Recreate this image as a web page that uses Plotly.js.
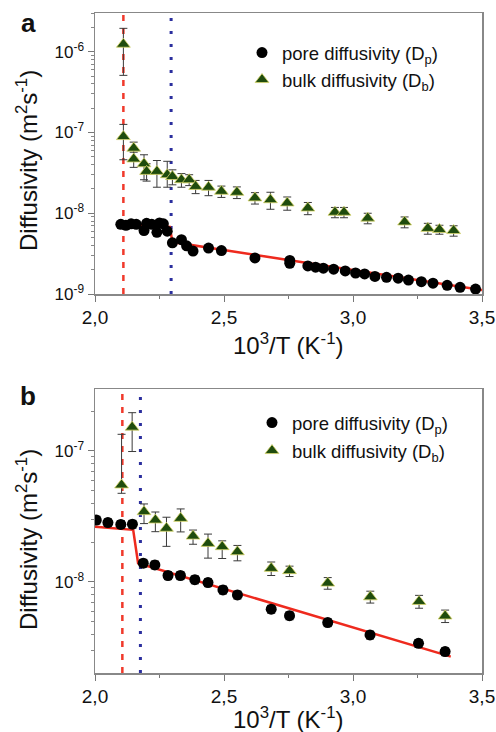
<!DOCTYPE html>
<html><head><meta charset="utf-8">
<script src="https://cdn.plot.ly/plotly-3.0.1.min.js"></script>
<style>html,body{margin:0;padding:0;background:#fff}#chart{width:496px;height:732px}</style>
</head><body><div id="chart"></div>
<script>
// ---------- Panel a ----------
const poreAx = [2.10,2.12,2.14,2.16,2.19,2.20,2.22,2.24,2.25,2.265,2.28,2.30,2.335,2.355,2.38,2.44,2.49,2.62,2.755,2.755,2.825,2.855,2.885,2.925,2.97,3.01,3.045,3.085,3.13,3.175,3.215,3.265,3.31,3.365,3.415,3.475];
const poreAy = [7.3e-9,7.1e-9,7.4e-9,7.3e-9,6.1e-9,7.5e-9,7.3e-9,5.8e-9,7.6e-9,7.4e-9,6.0e-9,4.3e-9,4.7e-9,3.95e-9,3.4e-9,3.7e-9,3.45e-9,2.8e-9,2.6e-9,2.4e-9,2.23e-9,2.15e-9,2.09e-9,2.03e-9,1.93e-9,1.82e-9,1.77e-9,1.65e-9,1.61e-9,1.57e-9,1.49e-9,1.42e-9,1.36e-9,1.28e-9,1.21e-9,1.15e-9];
const bulkAx = [2.11,2.11,2.15,2.15,2.19,2.20,2.24,2.28,2.30,2.335,2.365,2.39,2.44,2.49,2.55,2.62,2.68,2.745,2.825,2.93,2.965,3.057,3.20,3.29,3.335,3.39];
const bulkAy = [1.24e-6,8.9e-8,6.4e-8,4.7e-8,4.1e-8,3.3e-8,3.3e-8,3.0e-8,2.85e-8,2.6e-8,2.6e-8,2.15e-8,2.1e-8,1.87e-8,1.82e-8,1.55e-8,1.47e-8,1.34e-8,1.16e-8,1.03e-8,1.03e-8,8.7e-9,7.8e-9,6.5e-9,6.3e-9,6.1e-9];
const bulkAup = [7.1e-7,3.7e-8,1.2e-8,1.0e-8,1.2e-8,0.8e-8,1.2e-8,1.4e-8,0.6e-8,0.5e-8,0.4e-8,0.4e-8,0.45e-8,0.3e-8,0.3e-8,0.25e-8,0.35e-8,0.25e-8,0.2e-8,0.15e-8,0.15e-8,1.3e-9,1.2e-9,1.0e-9,0.8e-9,0.9e-9];
const bulkAdn = [7.3e-7,4.3e-8,1.9e-8,1.0e-8,1.5e-8,0.8e-8,1.2e-8,0.9e-8,0.6e-8,0.5e-8,0.4e-8,0.4e-8,0.45e-8,0.3e-8,0.3e-8,0.25e-8,0.35e-8,0.25e-8,0.2e-8,0.15e-8,0.15e-8,1.3e-9,1.2e-9,1.0e-9,0.8e-9,0.9e-9];
const fitAx = [2.10,2.29,2.30,3.50];
const fitAy = [7.4e-9,6.75e-9,4.4e-9,1.12e-9];
const transA = [2.11,2.295];

// ---------- Panel b ----------
const poreBx = [2.005,2.05,2.10,2.145,2.187,2.232,2.283,2.331,2.387,2.438,2.496,2.552,2.683,2.754,2.902,3.066,3.254,3.357];
const poreBy = [2.97e-8,2.84e-8,2.75e-8,2.76e-8,1.39e-8,1.35e-8,1.12e-8,1.12e-8,1.04e-8,0.99e-8,8.7e-9,7.96e-9,6.2e-9,5.53e-9,4.9e-9,3.94e-9,3.4e-9,2.94e-9];
const bulkBx = [2.103,2.144,2.19,2.234,2.277,2.332,2.38,2.438,2.493,2.552,2.683,2.754,2.902,3.067,3.256,3.357];
const bulkBy = [5.5e-8,1.52e-7,3.44e-8,2.97e-8,2.57e-8,3.06e-8,2.24e-8,1.97e-8,1.86e-8,1.7e-8,1.27e-8,1.22e-8,9.8e-9,7.7e-9,7.1e-9,5.5e-9];
const bulkBup = [7.9e-8,4.4e-8,0.5e-8,0.45e-8,0.55e-8,0.55e-8,0.25e-8,0.35e-8,0.2e-8,0.2e-8,0.15e-8,0.1e-8,0.1e-8,0.08e-8,0.08e-8,0.06e-8];
const bulkBdn = [0.75e-8,5.3e-8,0.65e-8,0.55e-8,0.7e-8,0.65e-8,0.3e-8,0.45e-8,0.35e-8,0.25e-8,0.15e-8,0.12e-8,0.1e-8,0.08e-8,0.08e-8,0.06e-8];
const fitBx = [2.00,2.148,2.167,3.379];
const fitBy = [2.64e-8,2.5e-8,1.39e-8,2.69e-9];
const transB = [2.106,2.176];

// ---------- Labels ----------
const xTickVals = [2.0,2.5,3.0,3.5];
const xTickText = ["2,0","2,5","3,0","3,5"];
const yTickVals = [1e-9,1e-8,1e-7,1e-6];
const yTickText = ["10<sup>-9</sup>","10<sup>-8</sup>","10<sup>-7</sup>","10<sup>-6</sup>"];
const poreName = "pore diffusivity (D<sub>p</sub>)";
const bulkName = "bulk diffusivity (D<sub>b</sub>)";
const xTitle = "10<sup>3</sup>/T (K<sup>-1</sup>)";
const yTitle = "Diffusivity (m<sup>2</sup>s<sup>-1</sup>)";

const minorY = [];
for (let e = -10; e <= -5; e++) for (let m = 2; m <= 9; m++) minorY.push(m * Math.pow(10, e));

const FONT = "Liberation Sans, Arial, sans-serif";
const triColor = '#1f4c0e', triEdge = '#d8d66a';
const errStyle = {color:'#3a3a3a', thickness:1, width:4};

function pore(x, y, xa, ya, lg) {
  return {x, y, xaxis:xa, yaxis:ya, type:'scatter', mode:'markers', name:poreName, legend:lg, legendgroup:'p'+lg,
    marker:{symbol:'circle', size:11, color:'#000'},
    error_y:Object.assign({type:'percent', value:7}, errStyle)};
}
function bulk(x, y, up, dn, xa, ya, lg) {
  return {x, y, xaxis:xa, yaxis:ya, type:'scatter', mode:'markers', name:bulkName, legend:lg, legendgroup:'b'+lg,
    marker:{symbol:'triangle-up', size:12, color:triColor, line:{color:triEdge, width:0.8}},
    error_y:Object.assign({type:'data', array:up, arrayminus:dn, symmetric:false}, errStyle)};
}
function fit(x, y, xa, ya) {
  return {x, y, xaxis:xa, yaxis:ya, type:'scatter', mode:'lines', showlegend:false, line:{color:'#ee2a1e', width:2.5}};
}

const data = [
  fit(fitAx, fitAy, 'x', 'y'),
  pore(poreAx, poreAy, 'x', 'y', 'legend'),
  bulk(bulkAx, bulkAy, bulkAup, bulkAdn, 'x', 'y', 'legend'),
  fit(fitBx, fitBy, 'x2', 'y2'),
  pore(poreBx, poreBy, 'x2', 'y2', 'legend2'),
  bulk(bulkBx, bulkBy, bulkBup, bulkBdn, 'x2', 'y2', 'legend2')
];

const W = 496, H = 732;
const px = v => v / W, py = v => 1 - v / H;
const xDom = [px(95), px(482)];

function xaxis(yref) {
  return {domain:xDom, anchor:yref, range:[2.0,3.5], tickmode:'array', tickvals:xTickVals, ticktext:xTickText,
    ticks:'outside', ticklen:6, tickwidth:1, tickcolor:'#777', showline:true, linecolor:'#888', linewidth:1.5, mirror:true,
    showgrid:false, zeroline:false, tickfont:{family:FONT, size:19, color:'#111'},
    minor:{tickmode:'array', tickvals:[2.25,2.75,3.25], ticks:'outside', ticklen:3, tickcolor:'#777', showgrid:false}};
}
function yaxis(xref, dom, range) {
  return {domain:dom, anchor:xref, type:'log', range:range, tickmode:'array', tickvals:yTickVals, ticktext:yTickText,
    ticks:'outside', ticklen:6, tickwidth:1, tickcolor:'#777', showline:true, linecolor:'#888', linewidth:1.5, mirror:true,
    showgrid:false, zeroline:false, tickfont:{family:FONT, size:17, color:'#111'},
    minor:{tickmode:'array', tickvals:minorY, ticks:'outside', ticklen:3, tickcolor:'#888', showgrid:false}};
}

function vline(xv, xr, yr, color, dash, w) {
  return {type:'line', xref:xr, yref:yr + ' domain', x0:xv, x1:xv, y0:0, y1:1, layer:'below',
    line:{color, width:w, dash}};
}

function note(text, x, y, size, angle) {
  return {text, xref:'paper', yref:'paper', x:px(x), y:py(y), xanchor:'center', yanchor:'middle',
    textangle:angle || 0, showarrow:false, font:{family:FONT, size, color:'#111'}};
}

const layout = {
  width:W, height:H, margin:{l:0, r:0, t:0, b:0}, paper_bgcolor:'#fff', plot_bgcolor:'#fff',
  font:{family:FONT, color:'#111'},
  xaxis:xaxis('y'), yaxis:yaxis('x', [py(294), py(13)], [-9, -5.52]),
  xaxis2:xaxis('y2'), yaxis2:yaxis('x2', [py(673), py(389)], [-8.695, -6.527]),
  legend:{x:px(242), y:py(34), xanchor:'left', yanchor:'top', bgcolor:'rgba(0,0,0,0)', font:{family:FONT, size:18.5, color:'#111'}, tracegroupgap:0},
  legend2:{x:px(252), y:py(404), xanchor:'left', yanchor:'top', bgcolor:'rgba(0,0,0,0)', font:{family:FONT, size:18.5, color:'#111'}, tracegroupgap:1},
  shapes:[
    vline(transA[0], 'x', 'y', '#f0392b', '6px,7px', 2.5),
    vline(transA[1], 'x', 'y', '#2b2f9e', '3px,10px', 3),
    vline(transB[0], 'x2', 'y2', '#f0392b', '6px,7px', 2.5),
    vline(transB[1], 'x2', 'y2', '#2b2f9e', '3px,10px', 3)
  ],
  annotations:[
    note('<b>a</b>', 28, 23, 26),
    note('<b>b</b>', 28, 396, 26),
    note(xTitle, 288, 344, 24),
    note(xTitle, 288, 718, 24),
    note(yTitle, 27, 161, 24, -90),
    note(yTitle, 27, 540, 24, -90)
  ]
};

Plotly.newPlot('chart', data, layout, {staticPlot:true, displayModeBar:false});
</script></body></html>
